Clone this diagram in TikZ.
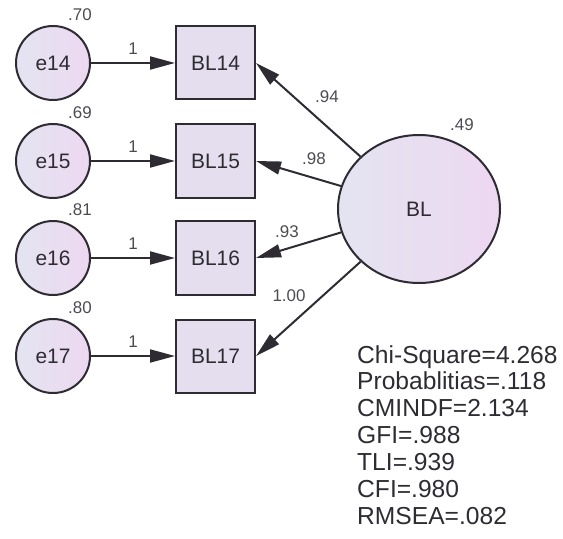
\documentclass[tikz,border=0pt]{standalone}
\usepackage{fontspec}
\setmainfont{Liberation Sans}
\usetikzlibrary{arrows.meta,shapes.geometric}
\definecolor{Ink}{HTML}{2E2B33}
\definecolor{Lilac}{HTML}{E4DEEE}
\definecolor{LeftLilac}{HTML}{E4E4F1}
\definecolor{RightLilac}{HTML}{EDD8F1}
\tikzset{
  errvar/.style={circle,draw=Ink,line width=2bp,minimum size=74bp,inner sep=0pt,
    left color=LeftLilac,right color=RightLilac,text=Ink,font=\fontsize{21}{24}\selectfont},
  obsvar/.style={rectangle,draw=Ink,line width=2bp,minimum width=79bp,minimum height=73bp,
    inner sep=0pt,fill=Lilac,text=Ink,font=\fontsize{21}{24}\selectfont},
  latvar/.style={ellipse,draw=Ink,line width=2bp,minimum width=162bp,minimum height=148bp,
    inner sep=0pt,left color=LeftLilac,right color=RightLilac,text=Ink,font=\fontsize{21}{24}\selectfont},
  regarrow/.style={-{Triangle[length=25bp,width=13bp]},line width=2bp,draw=Ink},
  est/.style={inner sep=1pt,text=Ink!85,font=\fontsize{17}{20}\selectfont}
}
\begin{document}
\begin{tikzpicture}[x=1bp,y=-1bp]
  \useasboundingbox (0,0) rectangle (563,539);
  % indicators with their error terms
  \foreach \n/\y/\v in {14/63/.70,15/161/.69,16/258/.81,17/356/.80}{
    \node[errvar] (e\n) at (53,\y) {e\n};
    \node[obsvar] (BL\n) at (215.5,\y) {BL\n};
    \node[est] (v\n) at (80,\y-48) {\v};
    \draw[regarrow] (e\n) -- (BL\n) node[est,midway,above=7bp] (w\n) {1};
  }
  % latent factor and loadings
  \node[latvar] (BL) at (419,209) {BL};
  \node[est] (vBL) at (462,125) {.49};
  \foreach \n/\l/\lx/\ly in {14/.94/327/97,15/.98/314/159,16/.93/287/232,17/1.00/289/296}{
    \draw[regarrow] (BL) -- (BL\n.east);
    \node[est] (l\n) at (\lx,\ly) {\l};
  }
  % fit indices
  \node[anchor=north west,align=left,inner sep=0pt,text=Ink,
    font=\fontsize{24.7}{27}\selectfont] (fit) at (357,345)
    {Chi-Square=4.268\\Probablitias=.118\\CMINDF=2.134\\GFI=.988\\TLI=.939\\CFI=.980\\RMSEA=.082};
\end{tikzpicture}
\end{document}
